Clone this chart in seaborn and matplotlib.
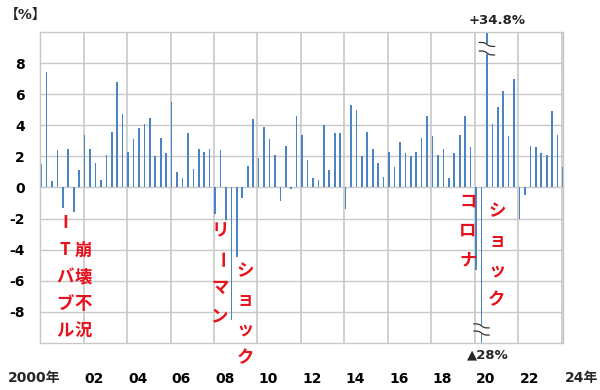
import numpy as np
import pandas as pd
import matplotlib
matplotlib.use("Agg")
import matplotlib.pyplot as plt
import matplotlib.transforms as mtransforms
import seaborn as sns

# -----------------------------------
# DATA (quarterly growth, %, 2000 Q1 - 2024 Q1)
# -----------------------------------

start_year = 2000
growth = [
    1.5, 7.4, 0.4, 2.4,      # 2000
    -1.3, 2.5, -1.6, 1.1,    # 2001
    3.4, 2.5, 1.6, 0.5,      # 2002
    2.1, 3.6, 6.8, 4.7,      # 2003
    2.3, 3.1, 3.8, 4.1,      # 2004
    4.5, 2.0, 3.2, 2.2,      # 2005
    5.5, 1.0, 0.6, 3.5,      # 2006
    1.2, 2.5, 2.3, 2.5,      # 2007
    -1.7, 2.4, -2.1, -8.5,   # 2008
    -4.5, -0.7, 1.4, 4.4,    # 2009
    1.9, 3.9, 3.1, 2.1,      # 2010
    -0.9, 2.7, -0.1, 4.6,    # 2011
    3.4, 1.8, 0.6, 0.5,      # 2012
    4.0, 1.1, 3.5, 3.5,      # 2013
    -1.4, 5.3, 5.0, 2.0,     # 2014
    3.6, 2.5, 1.6, 0.7,      # 2015
    2.3, 1.3, 2.9, 2.2,      # 2016
    2.0, 2.3, 3.2, 4.6,      # 2017
    3.3, 2.1, 2.5, 0.6,      # 2018
    2.2, 3.4, 4.6, 2.6,      # 2019
    -5.3, -28.0, 34.8, 4.1,  # 2020
    5.2, 6.2, 3.3, 7.0,      # 2021
    -2.0, -0.5, 2.7, 2.6,    # 2022
    2.2, 2.1, 4.9, 3.4,      # 2023
    1.3,                     # 2024
]

grid_years = list(range(2000, 2025, 2))
year_labels = ["2000年", "02", "04", "06", "08", "10", "12",
               "14", "16", "18", "20", "22", "24年"]
y_ticks = [-8, -6, -4, -2, 0, 2, 4, 6, 8]

spike_up_label = "+34.8%"
spike_down_label = "▲28%"

df = pd.DataFrame({
    "pos": [start_year + k / 4 + 0.05 for k in range(len(growth))],
    "growth": growth,
})

# -----------------------------------
# STYLE
# -----------------------------------

sns.set_theme(style="white")
plt.rcParams['font.family'] = ['DejaVu Sans', 'Noto Sans CJK JP']
plt.rcParams['font.weight'] = 'bold'

red = "#e8101a"
bar_blue = "#4a83c6"
grid_grey = "#c8c8c8"

fig = plt.figure(figsize=(6, 3.9), dpi=100, facecolor='white')
ax = fig.add_axes([0.0667, 0.1205, 0.8717, 0.7975])
ax.patch.set_visible(False)

sns.barplot(data=df, x="pos", y="growth", native_scale=True, color=bar_blue,
            saturation=1, width=0.3, linewidth=0, errorbar=None, ax=ax,
            zorder=2)

ax.set_xlabel("")
ax.set_ylabel("")

# ticks and grid lines
ax.set_xlim(2000, 2024.05)
ax.set_ylim(-10, 10)
ax.set_yticks(y_ticks)
ax.set_yticklabels([str(v) for v in y_ticks], fontsize=10, fontweight='bold')
ax.set_xticks([y + 0.5 for y in grid_years[1:-1]])
ax.set_xticklabels(year_labels[1:-1], fontsize=10, fontweight='bold')
ax.tick_params(which='both', length=0)
ax.tick_params(axis='y', pad=11, colors='black')
ax.tick_params(axis='x', pad=21, colors='black')
ax.grid(False)
ax.hlines(y_ticks, 2000, 2024.05, colors=grid_grey, lw=1.0, zorder=1)
for gy in grid_years:
    ax.plot([gy, gy], [-10, 10], color=grid_grey, lw=1.2, zorder=1.1)
for s in ax.spines.values():
    s.set_color(grid_grey)
    s.set_linewidth(1.0)
ax.set_xlim(2000, 2024.05)
ax.set_ylim(-10, 10)

# first / last year labels sit outside the plotted range
trans = mtransforms.blended_transform_factory(ax.transData, ax.transAxes)
ax.text(1999.72, -0.113, year_labels[0], transform=trans, fontsize=10,
        fontweight='bold', ha='center', va='center', clip_on=False)
ax.text(2024.88, -0.113, year_labels[-1], transform=trans, fontsize=10,
        fontweight='bold', ha='center', va='center', clip_on=False)

# unit label
fig.text(0.008, 0.962, "【%】", fontsize=10, fontweight='bold', ha='left', va='center')

# -----------------------------------
# AXIS BREAK MARKS FOR 2020
# -----------------------------------

def break_marks(xc, y1, y2):
    ax.add_patch(plt.Rectangle((xc - 0.15, y2), 0.3, y1 - y2,
                               color='white', zorder=3))
    t = np.linspace(-1, 1, 30)
    for yy in (y1, y2):
        ax.plot(xc + 0.36 * t, yy - 0.13 * np.tanh(3 * t),
                color='#333333', lw=0.9, zorder=4, solid_capstyle='round')

break_marks(start_year + 82 / 4 + 0.05, 9.2, 8.65)
break_marks(start_year + 81 / 4 + 0.05, -8.9, -9.36)

ax.text(2021.0, 10.75, spike_up_label, fontsize=9.5, fontweight='bold',
        ha='center', va='center', clip_on=False)
ax.text(2020.6, -10.75, spike_down_label, fontsize=9.5, fontweight='bold',
        ha='center', va='center', clip_on=False)

# -----------------------------------
# RED VERTICAL ANNOTATIONS
# -----------------------------------

def vtext(x, y0, chars, step):
    for i, ch in enumerate(chars):
        rot = -90 if ch == "ー" else 0
        ax.text(x, y0 - i * step, ch, color=red, fontsize=12.5, fontweight='bold',
                family=['Noto Sans CJK JP', 'DejaVu Sans'], rotation=rot,
                ha='center', va='center', clip_on=False, zorder=5)

vtext(2001.15, -2.31, "ITバブル", 1.73)
vtext(2001.98, -4.04, "崩壊不況", 1.73)
vtext(2008.28, -2.82, "リーマン", 1.82)
vtext(2009.43, -5.38, "ショック", 1.87)
vtext(2019.68, -0.9, "コロナ", 1.9)
vtext(2021.01, -1.54, "ショック", 1.9)

plt.savefig("out.png", dpi=100)
